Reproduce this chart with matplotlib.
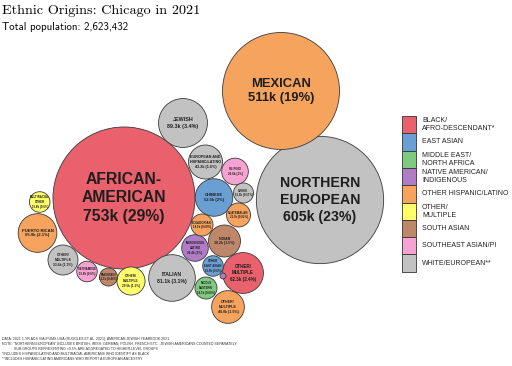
import matplotlib
matplotlib.use("Agg")
import matplotlib.pyplot as plt
from matplotlib.patches import Circle, Rectangle
import numpy as np

# Data (values in thousands)
total = 2623.432
names = ["AFRICAN-\nAMERICAN", "NORTHERN\nEUROPEAN", "MEXICAN", "JEWISH", "ITALIAN",
         "OTHER/\nMULTIPLE", "PUERTO RICAN", "CHINESE", "EUROPEAN AND\nHISPANIC/LATINO",
         "OTHER/\nMULTIPLE", "INDIAN", "OTHER/\nMULTIPLE", "OTHER/\nMULTIPLE", "FILIPINO",
         "INDIGENOUS\nLATINO", "GUATEMALAN", "ECUADORIAN", "MIDDLE\nEASTERN",
         "OTHER\nEAST ASIAN", "VIETNAMESE", "MULTIRACIAL\nOTHER", "GREEK", "PAKISTANI", ""]
values = [753.0, 605.0, 511.0, 89.3, 81.1, 62.3, 55.9, 52.5, 43.2, 40.0, 38.2, 33.6,
          29.5, 26.6, 26.4, 21.5, 18.1, 18.1, 15.8, 15.8, 15.8, 15.0, 12.1, 1.3]
groups = [0, 8, 4, 8, 8, 0, 4, 1, 8, 4, 6, 8, 5, 7, 3, 4, 4, 2, 1, 7, 5, 8, 6, 3]

legend_labels = ["BLACK/\nAFRO-DESCENDANT*", "EAST ASIAN", "MIDDLE EAST/\nNORTH AFRICA",
                 "NATIVE AMERICAN/\nINDIGENOUS", "OTHER HISPANIC/LATINO", "OTHER/\nMULTIPLE",
                 "SOUTH ASIAN", "SOUTHEAST ASIAN/PI", "WHITE/EUROPEAN**"]
group_colors = ["#e8616c", "#6a9fd4", "#80c980", "#b07cc6", "#f6a35e", "#ffff6b",
                "#bf876a", "#f6a2d2", "#c2c2c2"]

# layout of the packed bubbles (pixel positions)
pos = [(124, 198), (320, 200), (281, 91), (183, 123), (172, 278), (243, 273),
       (37.5, 233), (214, 197.5), (205.5, 162), (228, 307), (224.5, 241), (63, 260),
       (131, 281), (235, 171.5), (195, 248), (238.5, 215), (202, 225), (206, 288),
       (213, 266), (87, 271.5), (39.7, 202), (243.5, 193), (108.5, 277), (223, 276)]

notes = ["DATA: 2021 1-YR ACS VIA IPUMS USA (RUGGLES ET AL. 2021); AMERICAN JEWISH YEARBOOK 2021",
         "NOTE: \"NORTHERN EUROPEAN\" INCLUDES BRITISH, IRISH, GERMAN, POLISH, FRENCH ETC.; JEWISH AMERICANS COUNTED SEPARATELY;",
         "            SUB-GROUPS REPRESENTING <0.5% ARE AGGREGATED TO HIGHER-LEVEL GROUPS",
         "*INCLUDES HISPANIC/LATINO AND MULTIRACIAL AMERICANS WHO IDENTIFY AS BLACK",
         "**INCLUDES HISPANIC/LATINO AMERICANS WHO REPORT A EUROPEAN ANCESTRY"]

fig = plt.figure(figsize=(5.12, 3.66), dpi=100)
ax = fig.add_axes([0, 0, 1, 1])
ax.set_xlim(0, 512)
ax.set_ylim(366, 0)
ax.axis('off')

scale = 71 / np.sqrt(753)
for name, v, g, (x, y) in zip(names, values, groups, pos):
    r = scale * np.sqrt(v)
    ax.add_patch(Circle((x, y), r, facecolor=group_colors[g], edgecolor="#3a3a3a", lw=0.6))
    if not name:
        continue
    vs = f"{v:.0f}k" if v >= 100 else f"{v:.1f}k"
    pct = f"{v / total * 100:.2g}%"
    fs = max(0.16 * r, 2.1)
    ax.text(x, y, f"{name}\n{vs} ({pct})", ha='center', va='center', fontsize=fs,
            fontweight='bold', color="#1e1e1e", family="Liberation Sans", linespacing=1.3)

# legend
bx, by, bw, bh = 402, 116, 14, 17.3
for i, (lab, c) in enumerate(zip(legend_labels, group_colors)):
    ax.add_patch(Rectangle((bx, by + i * bh), bw, bh, facecolor=c, edgecolor="#333333", lw=0.6))
    ax.text(bx + 20, by + i * bh + bh / 2, lab, ha='left', va='center', fontsize=5.0,
            family="Liberation Sans", color="#222222", linespacing=1.2)

ax.text(2, 11, "Ethnic Origins: Chicago in 2021", fontsize=10.2, family="cmr10",
        ha='left', va='center')
ax.text(2, 27, "Total population: 2,623,432", fontsize=7.8, family="cmss10",
        ha='left', va='center')

for i, line in enumerate(notes):
    ax.text(2, 339 + i * 5, line, fontsize=2.5, family="Liberation Sans", color="#333333",
            ha='left', va='center')

fig.savefig("out.png", dpi=100)
